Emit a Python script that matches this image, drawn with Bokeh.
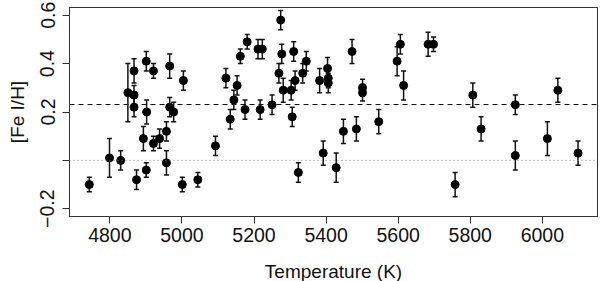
from bokeh.plotting import figure
from bokeh.models import ColumnDataSource, Whisker, TeeHead, Span, FixedTicker
from bokeh.embed import file_html
from bokeh.resources import INLINE

temperature = [4743, 4799, 4830, 4850, 4867, 4867, 4867, 4874, 4893, 4901, 4902, 4901,
               4921, 4921, 4938, 4957, 4957, 4966, 4966, 4977, 5004, 5001, 5044, 5093,
               5122, 5134, 5144, 5153, 5162, 5175, 5181, 5211, 5223, 5217, 5250, 5274,
               5269, 5277, 5281, 5303, 5306, 5310, 5314, 5323, 5335, 5345, 5382, 5392,
               5404, 5406, 5406, 5428, 5448, 5472, 5484, 5501, 5501, 5546, 5597, 5606,
               5615, 5683, 5698, 5758, 5807, 5830, 5925, 5925, 6014, 6043, 6099]
fe_h = [-0.10, 0.01, 0.00, 0.28, 0.37, 0.27, 0.22, -0.08, 0.09, 0.41, 0.20, -0.04,
        0.37, 0.07, 0.09, 0.12, -0.01, 0.39, 0.22, 0.20, 0.33, -0.10, -0.08, 0.06,
        0.34, 0.17, 0.25, 0.31, 0.43, 0.21, 0.49, 0.46, 0.46, 0.21, 0.23, 0.58,
        0.36, 0.44, 0.29, 0.29, 0.18, 0.45, 0.33, -0.05, 0.36, 0.41, 0.33, 0.03,
        0.38, 0.34, 0.32, -0.03, 0.12, 0.45, 0.13, 0.30, 0.28, 0.16, 0.41, 0.48,
        0.31, 0.48, 0.48, -0.10, 0.27, 0.13, 0.23, 0.02, 0.09, 0.29, 0.03]
fe_h_err = [0.03, 0.08, 0.04, 0.12, 0.05, 0.04, 0.04, 0.04, 0.05, 0.04, 0.05, 0.03,
            0.03, 0.03, 0.04, 0.04, 0.05, 0.05, 0.04, 0.04, 0.04, 0.03, 0.03, 0.04,
            0.04, 0.04, 0.04, 0.04, 0.03, 0.04, 0.03, 0.04, 0.04, 0.04, 0.04, 0.04,
            0.04, 0.04, 0.05, 0.04, 0.04, 0.04, 0.04, 0.04, 0.04, 0.04, 0.05, 0.05,
            0.045, 0.04, 0.04, 0.06, 0.05, 0.05, 0.05, 0.035, 0.035, 0.05, 0.06, 0.04,
            0.06, 0.05, 0.03, 0.05, 0.05, 0.05, 0.04, 0.06, 0.07, 0.05, 0.05]
mean_level = 0.231
zero_level = 0.0
x_ticks = [4800, 5000, 5200, 5400, 5600, 5800, 6000]
y_ticks = [-0.2, 0.0, 0.2, 0.4, 0.6]
y_tick_labels = ["\u22120.2", "", "0.2", "0.4", "0.6"]

src = ColumnDataSource(data=dict(
    x=temperature, y=fe_h,
    upper=[v + e for v, e in zip(fe_h, fe_h_err)],
    lower=[v - e for v, e in zip(fe_h, fe_h_err)],
))

FONT = "Liberation Sans"
p = figure(frame_width=528, frame_height=209,
           x_range=(4688, 6153), y_range=(-0.232, 0.632),
           output_backend="svg", toolbar_location=None,
           min_border_left=69, min_border_right=3, min_border_top=7, min_border_bottom=64)
p.xgrid.visible = False
p.ygrid.visible = False
p.outline_line_color = "#333333"
p.outline_line_width = 1
p.background_fill_color = "white"
p.border_fill_color = "white"

p.add_layout(Span(location=mean_level, dimension="width", line_dash="5 4",
                  line_color="#111111", line_width=1))
p.add_layout(Span(location=zero_level, dimension="width", line_dash="1 3",
                  line_color="#888888", line_width=1))

cap = dict(size=5, line_color="#111111", line_width=1.5)
p.add_layout(Whisker(base="x", upper="upper", lower="lower", source=src,
                     line_color="#111111", line_width=1.5,
                     upper_head=TeeHead(**cap), lower_head=TeeHead(**cap)))
p.scatter("x", "y", source=src, size=8, color="black")

for ax in (p.xaxis[0], p.yaxis[0]):
    ax.axis_line_color = "#333333"
    ax.major_tick_line_color = "#333333"
    ax.major_tick_in = 0
    ax.major_tick_out = 7
    ax.minor_tick_line_color = None
    ax.major_label_text_font = FONT
    ax.major_label_text_font_size = "19.5px"
    ax.major_label_text_color = "#111111"
    ax.axis_label_text_font = FONT
    ax.axis_label_text_font_size = "19px"
    ax.axis_label_text_font_style = "normal"
    ax.axis_label_text_color = "#111111"

p.xaxis.ticker = FixedTicker(ticks=x_ticks)
p.xaxis.axis_label = "Temperature (K)"
p.xaxis.major_label_standoff = 4
p.xaxis.axis_label_standoff = 16

p.yaxis.ticker = FixedTicker(ticks=y_ticks)
p.yaxis.major_label_overrides = {t: l for t, l in zip(y_ticks, y_tick_labels)}
p.yaxis.major_label_orientation = "vertical"
p.yaxis.axis_label = "[Fe I/H]"
p.yaxis.major_label_standoff = 8
p.yaxis.axis_label_standoff = 10

open("out.html", "w").write(file_html(p, INLINE))
